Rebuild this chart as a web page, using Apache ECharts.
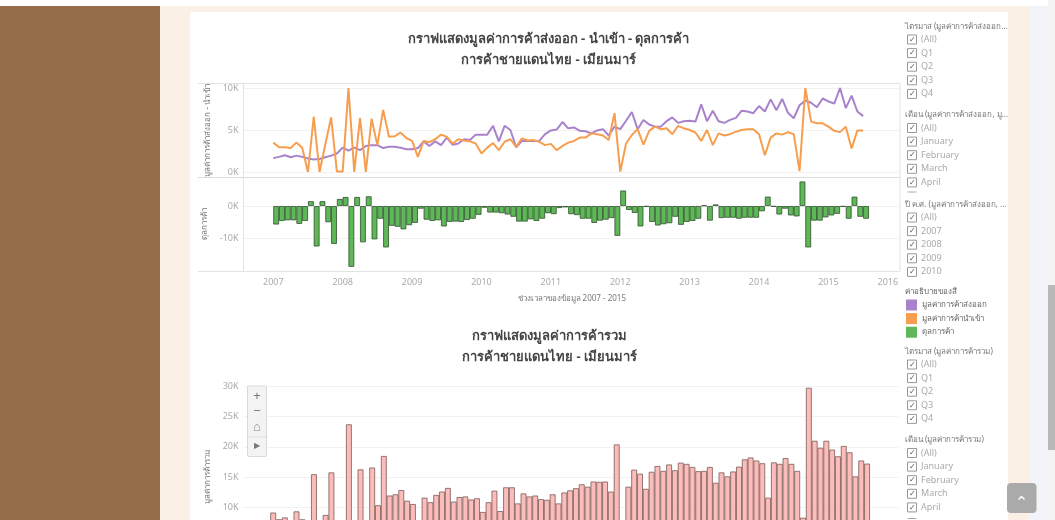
<!DOCTYPE html>
<html>
<head>
<meta charset="utf-8">
<style>html,body{margin:0;padding:0;background:#fff}#main{width:1055px;height:520px}</style>
<script src="https://cdn.jsdelivr.net/npm/echarts@6/dist/echarts.min.js"></script>
</head>
<body>
<div id="main"></div>
<script>
var exportK = [1.65,1.8,2.0,1.75,1.95,1.8,1.6,1.5,1.55,1.75,1.95,2.2,2.9,2.55,2.9,2.6,3.1,3.2,3.2,2.85,3.0,3.0,2.9,2.7,2.7,2.85,3.65,3.1,3.65,3.2,4.1,3.25,3.4,3.9,3.8,4.45,4.45,4.45,5.5,3.65,5.5,5.0,2.95,3.7,3.7,3.7,3.7,4.5,4.95,5.05,5.95,5.2,5.3,4.9,4.85,4.6,4.95,5.1,4.35,5.4,5.1,6.1,7.15,5.1,6.2,5.65,5.4,5.4,6.05,6.5,5.85,6.05,6.1,6.0,8.05,6.05,7.3,6.05,5.85,6.2,6.45,7.3,7.2,7.0,7.85,7.2,8.65,7.35,8.7,7.05,6.4,7.95,8.5,8.25,7.7,8.75,8.4,8.15,10.0,7.6,9.1,7.2,6.65];
var importK = [3.5,2.95,2.95,2.85,3.5,2.9,0,6.6,0,3.3,6.5,0.05,0.05,10.0,0,6.45,0,6.35,3.2,7.4,4.2,4.25,4.7,4.05,3.7,1.8,3.7,3.55,3.9,4.45,4.2,3.4,3.9,3.75,3.65,3.4,2.2,2.9,3.45,2.6,3.6,3.9,3.0,4.0,3.75,3.8,3.6,3.2,3.35,2.6,3.1,3.5,3.7,4.1,4.1,4.6,4.5,4.35,3.8,7.0,0.05,3.4,4.4,5.1,3.25,4.9,5.4,5.1,5.2,4.5,5.5,5.2,5.0,4.7,3.7,5.0,3.2,4.6,4.35,4.5,4.8,5.0,5.1,5.1,4.5,2.0,4.1,4.6,4.45,4.75,4.5,0.1,10.0,6.0,5.8,5.8,5.4,4.9,4.75,5.4,2.8,4.95,4.95];
var balanceK = [-5.7,-4.6,-4.4,-4.4,-5.5,-4.6,1.5,-12.5,1.5,-5.0,-11.7,2.2,2.8,-18.8,2.8,-11.2,3.0,-10.3,-3.9,-12.8,-6.1,-6.4,-7.2,-5.9,-5.2,-0.8,-4.2,-4.6,-4.4,-6.3,-4.9,-4.8,-4.9,-4.3,-3.9,-2.7,-0.5,-2.0,-2.0,-2.2,-2.6,-3.3,-4.8,-4.8,-4.1,-4.6,-3.9,-2.2,-2.5,-0.6,-0.4,-2.5,-2.8,-3.9,-3.9,-5.2,-4.5,-4.2,-3.7,-9.2,4.8,-1.2,-2.1,-6.3,-0.2,-4.9,-6.0,-5.6,-5.3,-3.3,-5.8,-4.9,-4.6,-3.9,0.2,-4.5,0.5,-3.7,-3.6,-3.6,-3.9,-3.6,-3.6,-3.6,-1.6,2.9,-0.2,-2.6,-0.8,-2.9,-3.2,7.6,-12.8,-4.5,-4.5,-3.5,-2.9,-2.4,-0.2,-3.9,2.9,-3.3,-3.9];
// ค่าที่ต่ำกว่า 8K ถูกตัดขอบล่างของภาพ อ่านไม่ได้ จึงเป็นค่าประมาณ
var totalK = [9.2,8.1,8.4,7.8,9.4,8.1,6,15.5,6,8.8,15.8,5,5,23.7,5,16.3,5,16.6,10.4,18.5,12.0,12.2,12.9,11.15,10.6,7,11.65,10.9,12.1,12.65,13.25,11.0,11.75,11.85,11.35,11.55,9.3,10.9,12.8,9.45,13.35,13.35,10.7,12.35,11.85,12.0,11.4,11.3,12.2,10.7,12.5,12.85,13.2,13.85,13.45,14.3,14.25,14.3,12.65,20.4,5,13.45,16.25,15.6,13.1,15.9,16.85,16.05,17.1,16.15,17.4,17.2,16.7,16.0,16.05,16.7,14.1,15.8,15.15,15.95,16.75,17.95,18.25,17.75,17.3,11.65,17.45,17.2,18.15,17.2,16.05,8.35,29.7,21.0,19.85,21.0,19.55,18.45,20.15,19.1,15.15,17.75,17.25];
var years = [2007,2008,2009,2010,2011,2012,2013,2014,2015,2016];
var ticks1 = [0,5000,10000];
var ticks2 = [-10000,0];

var nameExport = 'มูลค่าการค้าส่งออก';
var nameImport = 'มูลค่าการค้านำเข้า';
var nameBalance = 'ดุลการค้า';
var filters1 = [
    {title:'ไตรมาส (มูลค่าการค้าส่งออก...', y:26.5, items:['(All)','Q1','Q2','Q3','Q4']},
    {title:'เดือน (มูลค่าการค้าส่งออก, มู...', y:115, items:['(All)','January','February','March','April']},
    {title:'ปี ค.ศ. (มูลค่าการค้าส่งออก, ...', y:204.5, items:['(All)','2007','2008','2009','2010']},
    {title:'ไตรมาส (มูลค่าการค้ารวม)', y:351.5, items:['(All)','Q1','Q2','Q3','Q4']},
    {title:'เดือน (มูลค่าการค้ารวม)', y:440, items:['(All)','January','February','March','April']}
];

var font = '"Noto Sans",sans-serif';
var colExport = '#a883cc', colImport = '#f79e4e', colBalance = '#5fb858';

// แกน x นับเป็นเดือนจาก ม.ค. 2007; แท่งดุลการค้าของ tableau เริ่มที่ต้นเดือน จึงเลื่อนครึ่งเดือน
function series(arr, shift) {
    return arr.map(function (v, i) { return [i + shift, v * 1000]; });
}
function kLabel(v) { return (v / 1000) + 'K'; }
function rect(x, y, w, h, fill, z, r) {
    return {type:'rect', z:z || 0, silent:true, shape:{x:x, y:y, width:w, height:h, r:r || 0}, style:{fill:fill}};
}
function txt(x, y, s, fill, size, z, align) {
    return {type:'text', z:z || 5, silent:true, x:x, y:y, style:{text:s, fill:fill, fontSize:size, fontFamily:font,
        align:align || 'left', verticalAlign:'middle'}};
}

var g = [
    rect(0, 0, 1055, 520, '#ffffff', -10),
    rect(0, 6, 160, 514, '#946e4b', -9),
    rect(160, 6, 870, 514, '#fbf0e6', -9),
    rect(190, 12, 818, 508, '#ffffff', -8),
    rect(1030, 6, 18, 514, '#f2f4f9', -9),
    rect(1048, 0, 7, 520, '#f3f3f3', -9),
    rect(1048, 285, 7, 165, '#b9b9b9', -8),
    // เส้นกรอบของกราฟ
    rect(198, 83, 702, 1, '#e3e3e3', 1),
    rect(198, 177, 702, 1, '#dcdcdc', 1),
    rect(198, 271, 702, 1, '#e3e3e3', 1),
    rect(243, 83, 1, 188, '#e3e3e3', 1),
    rect(899.5, 83, 1, 188, '#e3e3e3', 1),
    // ปุ่มซูมของ tableau
    {type:'rect', z:20, silent:true, shape:{x:247.5, y:386, width:19, height:70.5, r:1}, style:{fill:'#f3f3f3', stroke:'#d9d9d9', lineWidth:1}},
    txt(257, 396, '+', '#777777', 13, 21, 'center'),
    txt(257, 411, '−', '#777777', 13, 21, 'center'),
    txt(257, 427, '⌂', '#888888', 13, 21, 'center'),
    rect(248, 436.5, 18, 1, '#dddddd', 21),
    txt(257, 446, '▶', '#777777', 8, 21, 'center'),
    // ปุ่มกลับขึ้นด้านบน
    rect(1007, 483, 29.5, 30, '#aaaaaa', 20, 4),
    {type:'polyline', z:21, silent:true, shape:{points:[[1018.5,499.5],[1021.5,496.5],[1024.5,499.5]]}, style:{stroke:'#ffffff', lineWidth:1.5, fill:null}},
    txt(905, 291.5, 'ค่าอธิบายของสี', '#666666', 8),
    // ช่องถัดไปของรายการที่ถูกตัดไว้
    rect(907.5, 191.5, 9, 1, '#aaaaaa', 5),
    rect(907.5, 518, 9, 1, '#aaaaaa', 5)
];

filters1.forEach(function (f) {
    g.push(txt(905, f.y, f.title, '#777777', 8));
    f.items.forEach(function (s, i) {
        var y = f.y + 13 + i * 13.6;
        g.push({type:'rect', z:5, silent:true, shape:{x:907.5, y:y - 4.5, width:9, height:9}, style:{fill:'#ffffff', stroke:'#999999', lineWidth:1}});
        g.push(txt(912, y, '✓', '#555555', 8, 6, 'center'));
        g.push(txt(921, y, s, '#aaaaaa', 9));
    });
});

var monthTicks = years.map(function (y) { return (y - 2007) * 12; });
var axisLabelStyle = {color:'#aaaaaa', fontSize:9, fontFamily:font};
var splitStyle = {lineStyle:{color:'#f2f2f2', width:1}};
var nameStyle = {color:'#777777', fontSize:8, fontFamily:font};

var option = {
    animation: false,
    backgroundColor: 'transparent',
    title: [
        {text:'กราฟแสดงมูลค่าการค้าส่งออก - นำเข้า - ดุลการค้า\nการค้าชายแดนไทย - เมียนมาร์', left:543.5, top:23.5, textAlign:'center',
            textStyle:{color:'#444444', fontSize:13, fontWeight:'bold', lineHeight:21, fontFamily:font}},
        {text:'กราฟแสดงมูลค่าการค้ารวม\nการค้าชายแดนไทย - เมียนมาร์', left:544.5, top:321, textAlign:'center',
            textStyle:{color:'#444444', fontSize:13, fontWeight:'bold', lineHeight:21, fontFamily:font}}
    ],
    legend: {
        orient:'vertical', left:906, top:299.5, padding:0, itemWidth:11, itemHeight:11, itemGap:2.6, icon:'rect',
        selectedMode:false, data:[nameExport, nameImport, nameBalance],
        itemStyle:{borderWidth:0},
        textStyle:{color:'#666666', fontSize:8, fontFamily:font}
    },
    graphic: g,
    grid: [
        {left:243.5, width:656.5, top:83.3, height:94, outerBoundsMode:'none'},
        {left:243.5, width:656.5, top:177.3, height:93.7, outerBoundsMode:'none'},
        {left:243.5, width:655, top:386, height:182.6, outerBoundsMode:'none'}
    ],
    xAxis: [
        {type:'value', gridIndex:0, min:-5.15, max:108.37, axisLine:{show:false}, axisTick:{show:false}, axisLabel:{show:false}, splitLine:{show:false}},
        {type:'value', gridIndex:1, min:-5.15, max:108.37, axisLine:{show:false}, axisTick:{show:false}, splitLine:{show:false},
            axisLabel:{show:true, margin:7, customValues:monthTicks, fontSize:9, color:'#aaaaaa', fontFamily:font, hideOverlap:false,
                // tableau ดันป้าย 2016 เข้ามาให้อยู่ในกรอบ
                formatter:function (v) {
                    var y = 2007 + v / 12;
                    return y === 2016 ? '{last|' + y + '}' : String(y);
                },
                rich:{last:{padding:[0,20,0,0], color:'#aaaaaa', fontSize:9, fontFamily:font}}},
            name:'ช่วงเวลาของข้อมูล 2007 - 2015', nameLocation:'middle', nameGap:24, nameTextStyle:{color:'#777777', fontSize:8, fontFamily:font}},
        {type:'value', gridIndex:2, min:-5.1, max:107.4, axisLine:{show:false}, axisTick:{show:false}, axisLabel:{show:false}, splitLine:{show:false}}
    ],
    yAxis: [
        {type:'value', gridIndex:0, min:-630, max:10560, axisLine:{show:false}, axisTick:{show:false, customValues:ticks1},
            splitLine:Object.assign({customValues:ticks1}, splitStyle),
            axisLabel:Object.assign({customValues:ticks1, margin:5, formatter:kLabel}, axisLabelStyle),
            name:'มูลค่าการค้าส่งออก - นำเข้า', nameLocation:'middle', nameRotate:90, nameGap:25, nameTextStyle:nameStyle},
        {type:'value', gridIndex:1, min:-20100, max:8900, axisLine:{show:false}, axisTick:{show:false, customValues:ticks2},
            splitLine:Object.assign({customValues:ticks2}, splitStyle),
            axisLabel:Object.assign({customValues:ticks2, margin:5, formatter:kLabel}, axisLabelStyle),
            name:nameBalance, nameLocation:'middle', nameRotate:90, nameGap:25, nameTextStyle:nameStyle},
        {type:'value', gridIndex:2, min:0, max:30000, interval:5000, axisLine:{show:false}, axisTick:{show:false},
            splitLine:splitStyle,
            axisLabel:Object.assign({margin:5, formatter:kLabel}, axisLabelStyle),
            name:'มูลค่าการค้ารวม', nameLocation:'middle', nameRotate:90, nameGap:25, nameTextStyle:nameStyle}
    ],
    series: [
        {name:nameExport, type:'line', xAxisIndex:0, yAxisIndex:0, data:series(exportK, 0), symbol:'none', itemStyle:{color:colExport}, lineStyle:{color:colExport, width:2}},
        {name:nameImport, type:'line', xAxisIndex:0, yAxisIndex:0, data:series(importK, 0), symbol:'none', itemStyle:{color:colImport}, lineStyle:{color:colImport, width:2}},
        {name:nameBalance, type:'bar', xAxisIndex:1, yAxisIndex:1, data:series(balanceK, 0.5), barWidth:5.78, itemStyle:{color:colBalance, borderColor:'#2f4f2c', borderWidth:0.8}},
        {name:'มูลค่าการค้ารวม', type:'bar', xAxisIndex:2, yAxisIndex:2, data:series(totalK, 0), barWidth:5.82, itemStyle:{color:'#fbbcba', borderColor:'#7a5a58', borderWidth:0.8}}
    ]
};
var myChart = echarts.init(document.getElementById('main'), null, {renderer:'canvas'});
myChart.setOption(option);
</script>
</body>
</html>
